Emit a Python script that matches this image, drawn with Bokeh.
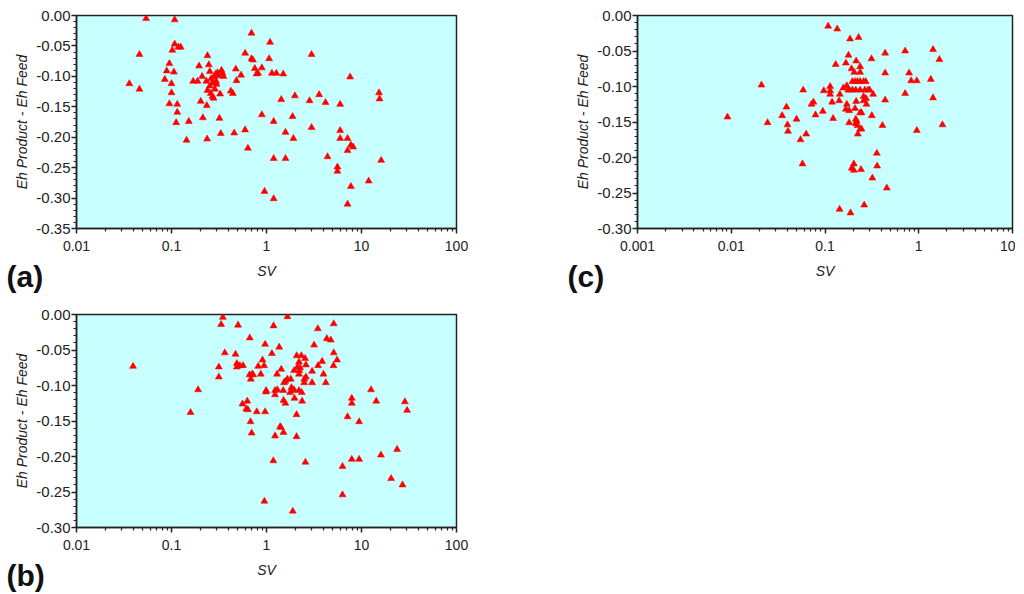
from bokeh.plotting import figure
from bokeh.layouts import column, row
from bokeh.models import (FixedTicker, CustomJSTickFormatter, PrintfTickFormatter,
                          Title, Range1d)
from bokeh.embed import file_html
from bokeh.resources import INLINE

# ---------------- data ----------------
a_sv = [0.054, 0.108, 0.046, 0.108, 0.118, 0.125, 0.102, 0.095, 0.089, 0.106, 0.085,
        0.100, 0.036, 0.046, 0.100, 0.095, 0.115, 0.115, 0.112, 0.152, 0.144, 0.169,
        0.239, 0.247, 0.195, 0.188, 0.210, 0.253, 0.233, 0.239, 0.253, 0.261,
        0.270, 0.281, 0.292, 0.305, 0.295, 0.313, 0.336, 0.344, 0.352, 0.325,
        0.259, 0.270, 0.277, 0.286, 0.298, 0.203, 0.235, 0.214, 0.320, 0.421,
        0.442, 0.475, 0.483, 0.540, 0.596, 0.237, 0.330, 0.457, 0.595, 0.637,
        0.695, 1.09, 2.98, 0.695, 0.72, 1.065, 0.753, 0.893, 0.785, 0.815,
        1.14, 1.27, 1.50, 7.59, 15.3, 15.5, 1.43, 1.99, 2.84, 3.58,
        4.18, 5.96, 0.893, 1.19, 1.88, 1.585, 1.92, 2.98, 5.96, 5.96,
        7.13, 7.13, 7.73, 8.17, 1.19, 1.585, 4.39, 16.1, 5.58, 5.58,
        11.9, 7.73, 0.953, 1.19, 7.13]
a_deh = [-0.005, -0.007, -0.064, -0.047, -0.052, -0.052, -0.057, -0.079, -0.091, -0.093, -0.105,
         -0.112, -0.112, -0.121, -0.127, -0.145, -0.146, -0.159, -0.176, -0.174, -0.205, -0.108,
         -0.066, -0.081, -0.083, -0.108, -0.100, -0.092, -0.108, -0.123, -0.116, -0.104,
         -0.111, -0.101, -0.096, -0.094, -0.108, -0.099, -0.090, -0.095, -0.100, -0.129,
         -0.128, -0.133, -0.136, -0.121, -0.113, -0.141, -0.148, -0.168, -0.169, -0.124,
         -0.128, -0.088, -0.107, -0.098, -0.062, -0.203, -0.194, -0.193, -0.188, -0.218,
         -0.029, -0.044, -0.064, -0.071, -0.073, -0.071, -0.087, -0.086, -0.096, -0.095,
         -0.095, -0.095, -0.096, -0.101, -0.127, -0.137, -0.138, -0.132, -0.140, -0.130,
         -0.143, -0.146, -0.163, -0.174, -0.166, -0.192, -0.202, -0.184, -0.189, -0.202,
         -0.202, -0.222, -0.213, -0.216, -0.235, -0.235, -0.232, -0.238, -0.249, -0.256,
         -0.272, -0.281, -0.289, -0.301, -0.310]

b_sv = [0.0394, 0.1905, 0.1585, 0.347, 0.333, 0.502, 0.667, 0.364, 0.472, 0.315, 0.315,
        0.487, 0.487, 0.524, 0.567, 0.662, 0.705, 0.724, 0.684, 0.558, 0.628, 0.612,
        0.637, 0.79, 0.679, 0.698,
        1.66, 1.186, 3.47, 5.1, 4.31, 4.75, 3.17, 0.967, 1.36, 1.14, 5.1, 5.53, 5.07,
        0.908, 0.817, 0.944, 0.871,
        2.08, 2.33, 2.55, 2.2, 2.6, 2.12, 2.26, 2.22, 1.95, 2.2, 2.6, 2.5, 2.49, 3.02,
        3.02, 3.85, 3.49, 3.98, 4.21,
        1.95, 2.2, 2.35, 1.83, 1.86, 1.77, 1.5, 1.58, 1.53, 1.66, 1.8, 1.29, 1.43, 1.3,
        1.23, 1.23, 0.99, 0.99,
        1.51, 1.58, 1.97, 2.37, 2.07, 0.967, 1.39, 1.42, 1.51, 1.23, 2.07, 1.18, 2.57,
        0.95, 1.89,
        12.6, 7.9, 7.9, 14.3, 28.6, 30.2, 7.13, 9.44, 23.7, 16.0, 7.9, 9.44, 6.31,
        20.5, 27.0, 6.31]
b_deh = [-0.073, -0.106, -0.138, -0.004, -0.014, -0.015, -0.033, -0.054, -0.056, -0.074, -0.088,
         -0.069, -0.074, -0.072, -0.072, -0.085, -0.084, -0.085, -0.091, -0.126, -0.122, -0.133,
         -0.134, -0.137, -0.151, -0.167,
         -0.003, -0.016, -0.020, -0.013, -0.034, -0.036, -0.043, -0.042, -0.046, -0.055, -0.054,
         -0.064, -0.072, -0.064, -0.073, -0.072, -0.084,
         -0.058, -0.058, -0.062, -0.067, -0.071, -0.074, -0.075, -0.079, -0.079, -0.084, -0.088,
         -0.091, -0.096, -0.080, -0.096, -0.066, -0.072, -0.084, -0.096,
         -0.106, -0.107, -0.110, -0.103, -0.107, -0.110, -0.107, -0.094, -0.096, -0.091, -0.091,
         -0.084, -0.077, -0.106, -0.107, -0.113, -0.107, -0.109,
         -0.121, -0.125, -0.118, -0.122, -0.141, -0.137, -0.158, -0.159, -0.166, -0.171, -0.172,
         -0.206, -0.208, -0.263, -0.277,
         -0.106, -0.118, -0.125, -0.122, -0.123, -0.135, -0.144, -0.151, -0.190, -0.198, -0.204,
         -0.204, -0.214, -0.231, -0.240, -0.254]

c_sv = [0.00912, 0.021, 0.0244, 0.0388, 0.0349, 0.0398, 0.0403, 0.0497, 0.0585, 0.0718,
        0.0754, 0.0792, 0.0548, 0.063, 0.0575,
        0.097, 0.0948, 0.1135, 0.1135, 0.1135, 0.119, 0.122, 0.1415, 0.144, 0.157, 0.171, 0.177,
        0.108, 0.135, 0.185, 0.228, 0.438, 0.716, 1.42, 1.66, 0.178, 0.313, 0.130, 0.167,
        0.215, 0.192, 0.237, 0.205, 0.237, 0.438, 0.789, 0.829, 0.953, 1.345,
        0.196, 0.209, 0.222, 0.237, 0.258, 0.272,
        0.181, 0.196, 0.213, 0.237, 0.266, 0.288, 0.300,
        0.326, 0.258, 0.274, 0.277, 0.258, 0.215, 0.171, 0.167, 0.181, 0.209, 0.237, 0.245,
        0.181, 0.213, 0.218, 0.213, 0.222, 0.316, 0.41, 0.953, 1.79, 0.237, 0.245, 0.224,
        0.357, 0.36, 0.203, 0.193, 0.203, 0.242, 0.32, 0.456, 0.143, 0.187, 0.262,
        0.716, 1.42, 0.438]
c_deh = [-0.143, -0.098, -0.151, -0.129, -0.141, -0.154, -0.163, -0.146, -0.105, -0.125,
         -0.122, -0.140, -0.175, -0.167, -0.209,
         -0.106, -0.135, -0.100, -0.106, -0.111, -0.122, -0.145, -0.120, -0.111, -0.102, -0.099, -0.105,
         -0.015, -0.019, -0.033, -0.031, -0.053, -0.050, -0.048, -0.062, -0.056, -0.061, -0.069, -0.067,
         -0.064, -0.075, -0.072, -0.080, -0.080, -0.081, -0.081, -0.092, -0.092, -0.090,
         -0.093, -0.093, -0.093, -0.093, -0.093, -0.093,
         -0.105, -0.105, -0.105, -0.105, -0.105, -0.105, -0.105,
         -0.111, -0.114, -0.117, -0.125, -0.120, -0.121, -0.125, -0.132, -0.134, -0.131, -0.137, -0.137,
         -0.151, -0.146, -0.149, -0.152, -0.155, -0.141, -0.155, -0.162, -0.154, -0.160, -0.160, -0.167,
         -0.194, -0.212, -0.209, -0.215, -0.218, -0.217, -0.229, -0.243, -0.273, -0.278, -0.267,
         -0.110, -0.116, -0.119]

ab_xticks = [0.01, 0.1, 1, 10, 100]
c_xticks = [0.001, 0.01, 0.1, 1, 10]
a_yticks = [0.00, -0.05, -0.10, -0.15, -0.20, -0.25, -0.30, -0.35]
bc_yticks = [0.00, -0.05, -0.10, -0.15, -0.20, -0.25, -0.30]

x_label = "SV"
y_label = "Eh Product - Eh Feed"

FONT = "Liberation Sans"
INK = "#222222"


def panel(sv, deh, xticks, yticks, letter, width, height, left, right, top, bottom):
    p = figure(width=width, height=height, x_axis_type="log",
               x_range=Range1d(xticks[0], xticks[-1]),
               y_range=Range1d(yticks[-1], yticks[0]),
               output_backend="svg", toolbar_location=None,
               min_border_left=left, min_border_right=right,
               min_border_top=top, min_border_bottom=bottom,
               background_fill_color="#c8ffff", border_fill_color="white",
               outline_line_color=INK, outline_line_width=1.5, outline_line_alpha=1.0)
    p.grid.visible = False

    minor_x = [d * m for d in xticks[:-1] for m in range(2, 10)]
    p.xaxis.ticker = FixedTicker(ticks=xticks, minor_ticks=minor_x)
    p.xaxis.formatter = CustomJSTickFormatter(code="return tick.toString();")

    ystep = (yticks[0] - yticks[1]) / 5.0
    n = int(round((yticks[0] - yticks[-1]) / ystep))
    minor_y = [round(yticks[0] - i * ystep, 4) for i in range(n + 1)]
    p.yaxis.ticker = FixedTicker(ticks=yticks, minor_ticks=minor_y)
    p.yaxis.formatter = PrintfTickFormatter(format="%.2f")

    for ax in (p.xaxis[0], p.yaxis[0]):
        ax.axis_line_color = INK
        ax.axis_line_width = 1.5
        ax.major_tick_line_color = INK
        ax.major_tick_line_width = 1.5
        ax.minor_tick_line_color = INK
        ax.minor_tick_line_width = 1.2
        ax.major_tick_in = 0
        ax.major_tick_out = 5
        ax.minor_tick_in = 0
        ax.minor_tick_out = 3
        ax.major_label_text_font = FONT
        ax.major_label_text_font_size = "14px"
        ax.major_label_text_color = INK
        ax.axis_label_text_font = FONT
        ax.axis_label_text_font_size = "14px"
        ax.axis_label_text_font_style = "italic"
        ax.axis_label_text_color = INK

    p.yaxis.major_label_text_font_size = "15px"
    p.xaxis.axis_label = x_label
    p.yaxis.axis_label = y_label
    p.xaxis.major_label_standoff = 7
    p.xaxis.axis_label_standoff = 9
    p.yaxis.major_label_standoff = 1
    p.yaxis.axis_label_standoff = 3

    p.scatter(sv, deh, marker="triangle", size=7, fill_color="#ff0000",
              line_color="#ff0000", line_width=0.5)

    p.add_layout(Title(text=letter, align="left", offset=-70, vertical_align="top",
                       standoff=-44, text_font=FONT, text_font_style="bold",
                       text_font_size="30px", text_color="#111111"), "below")
    return p


pa = panel(a_sv, a_deh, ab_xticks, a_yticks, "(a)", 476, 300, 76, 20, 15, 72)
pc = panel(c_sv, c_deh, c_xticks, bc_yticks, "(c)", 539, 300, 161, 3, 15, 72)
pb = panel(b_sv, b_deh, ab_xticks, bc_yticks, "(b)", 476, 293, 76, 20, 14, 66)

layout = column(row(pa, pc), pb)

open("out.html", "w").write(file_html(layout, INLINE))
